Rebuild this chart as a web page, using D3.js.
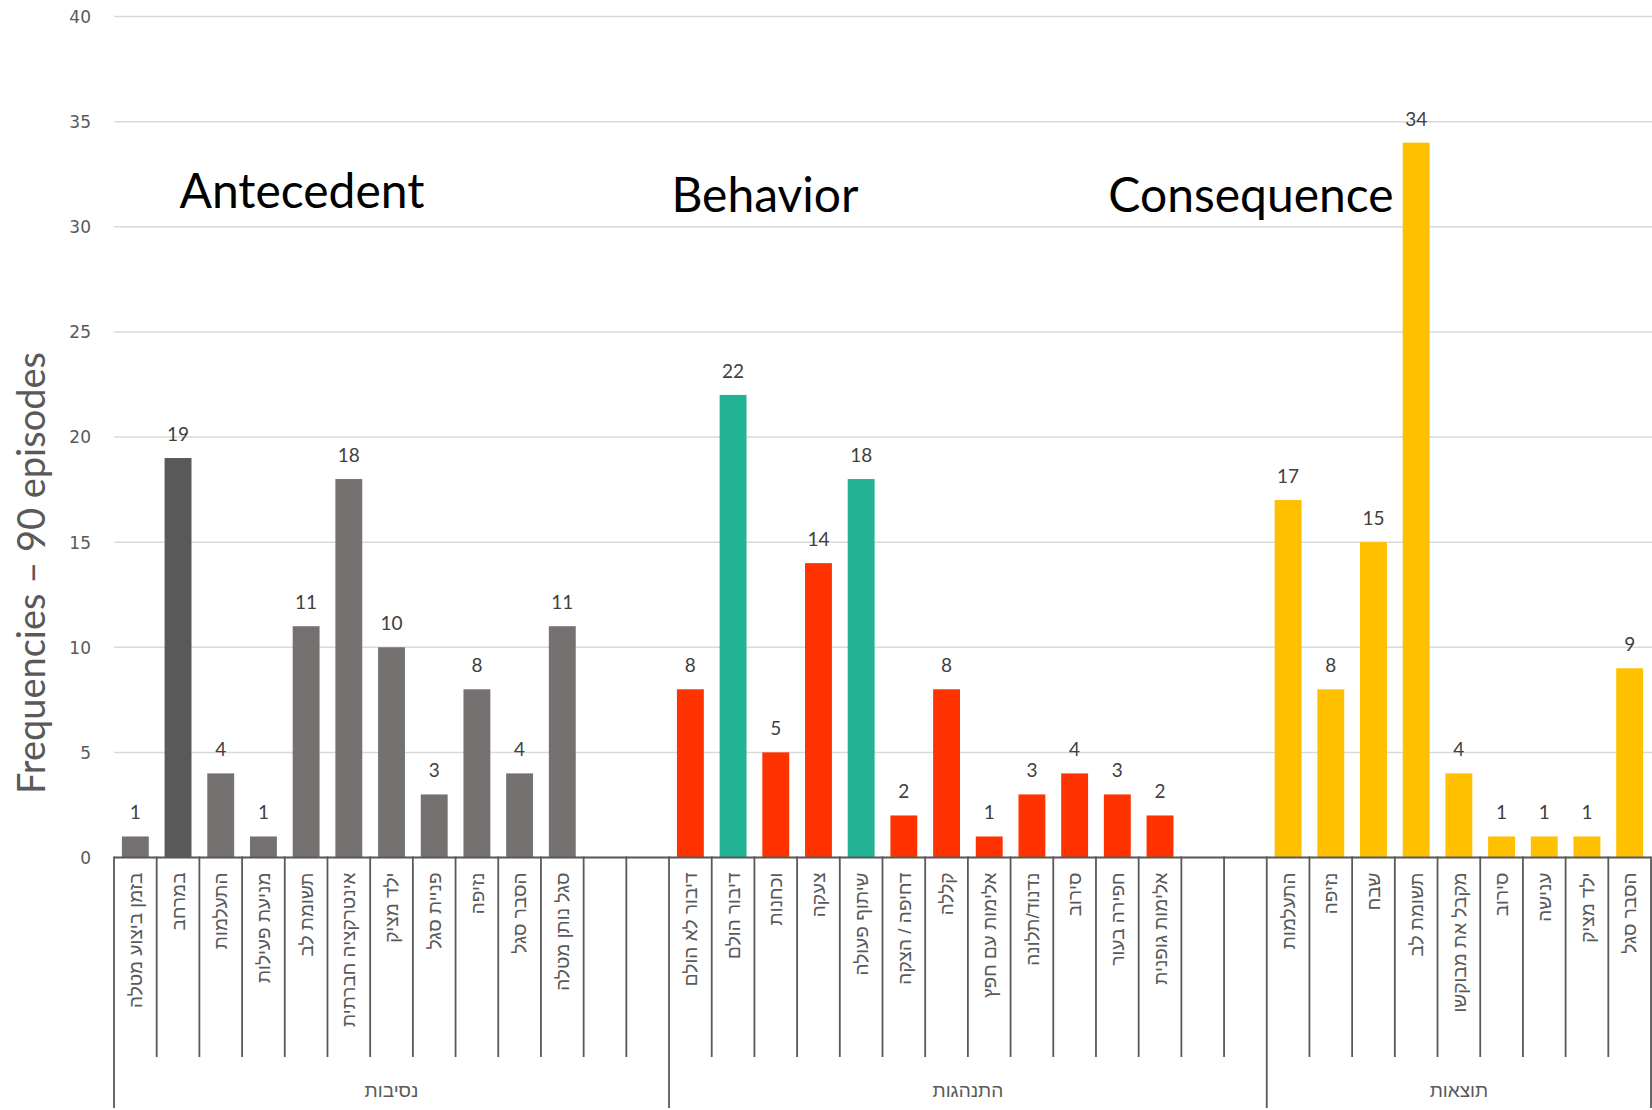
<!DOCTYPE html>
<html lang="he">
<head>
<meta charset="utf-8">
<title>Frequencies – 90 episodes</title>
<script src="https://cdn.jsdelivr.net/npm/d3@7"></script>
<style>
  html, body { margin: 0; padding: 0; background: #fff; }
  svg { display: block; }
</style>
</head>
<body>
<svg id="chart" width="1652" height="1110"></svg>
<script>
// ---- data ----
const groupNames = ["נסיבות", "התנהגות", "תוצאות"];
const groupTitles = ["Antecedent", "Behavior", "Consequence"];
const groupEmptySlots = [2, 2, 0];

const antecedentLabels = ["בזמן ביצוע מטלה", "במרחב", "התעלמות", "מניעת פעילות", "תשומת לב",
  "אינטרקציה חברתית", "ילד מציק", "פניית סגל", "נזיפה", "הסבר סגל", "סגל נותן מטלה"];
const antecedentValues = [1, 19, 4, 1, 11, 18, 10, 3, 8, 4, 11];

const behaviorLabels = ["דיבור לא הולם", "דיבור הולם", "וכחנות", "צעקה", "שיתוף פעולה",
  "דחיפה / הצקה", "קללה", "אלימות עם חפץ", "נדנוד/תלונה", "סירוב", "חפירה בעור", "אלימות גופנית"];
const behaviorValues = [8, 22, 5, 14, 18, 2, 8, 1, 3, 4, 3, 2];
const positiveBehaviors = ["דיבור הולם", "שיתוף פעולה"];

const consequenceLabels = ["התעלמות", "נזיפה", "שבח", "תשומת לב", "מקבל את מבוקשו",
  "סירוב", "ענישה", "ילד מציק", "הסבר סגל"];
const consequenceValues = [17, 8, 15, 34, 4, 1, 1, 1, 9];

const highlightedAntecedents = ["במרחב"];
const yTicks = [0, 5, 10, 15, 20, 25, 30, 35, 40];

// ---- layout ----
const W = 1652, H = 1110;
const plot = { left: 114, right: 1651, top: 16.5, bottom: 857.5 };
const shortDividerEnd = 1057;
const longDividerEnd = 1108;

const palette = {
  antecedent: "#767171",
  antecedentHi: "#595959",
  behavior: "#FF3300",
  behaviorPos: "#22B294",
  consequence: "#FFC000"
};

// flatten the three groups into slots (with blank slots after the first two groups)
const groups = [
  { labels: antecedentLabels, values: antecedentValues },
  { labels: behaviorLabels, values: behaviorValues },
  { labels: consequenceLabels, values: consequenceValues }
];
const slots = [];
groups.forEach((g, gi) => {
  g.labels.forEach((lab, i) => slots.push({ id: `g${gi}-${i}`, group: gi, label: lab, value: g.values[i] }));
  for (let k = 0; k < groupEmptySlots[gi]; k++) slots.push({ id: `g${gi}-e${k}`, group: gi, label: null, value: null });
});

function barColor(d) {
  if (d.group === 0) return highlightedAntecedents.includes(d.label) ? palette.antecedentHi : palette.antecedent;
  if (d.group === 1) return positiveBehaviors.includes(d.label) ? palette.behaviorPos : palette.behavior;
  return palette.consequence;
}

const x = d3.scaleBand()
  .domain(slots.map(d => d.id))
  .range([plot.left, plot.right])
  .paddingInner(0.37)
  .paddingOuter(0.185);
const step = x.step();
const slotStart = d => x(d.id) - x.paddingInner() * step / 2;

const y = d3.scaleLinear().domain([0, 40]).range([plot.bottom, plot.top]);

const svg = d3.select("#chart");

// gridlines
svg.append("g")
  .selectAll("line")
  .data(yTicks)
  .join("line")
  .attr("x1", plot.left).attr("x2", W)
  .attr("y1", d => y(d)).attr("y2", d => y(d))
  .attr("stroke", "#d9d9d9")
  .attr("stroke-width", 1.5);

// y axis labels
const yAxis = d3.axisLeft(y).tickValues(yTicks).tickSize(0).tickPadding(0);
const yg = svg.append("g").attr("transform", `translate(91,0)`).call(yAxis);
yg.select(".domain").remove();
yg.selectAll("text")
  .attr("fill", "#595959")
  .attr("font-family", "DejaVu Sans, Verdana, sans-serif")
  .attr("font-size", 17)
  .attr("dy", "0.35em");

// y axis title
svg.append("text")
  .attr("transform", `translate(45,573) rotate(-90)`)
  .attr("text-anchor", "middle")
  .attr("font-family", "Lato, sans-serif")
  .attr("font-weight", 400)
  .attr("font-size", 38)
  .attr("fill", "#595959")
  .text("Frequencies – 90 episodes");

// bars
const barData = slots.filter(d => d.value !== null);
svg.append("g")
  .selectAll("rect")
  .data(barData)
  .join("rect")
  .attr("x", d => x(d.id))
  .attr("width", x.bandwidth())
  .attr("y", d => y(d.value))
  .attr("height", d => y(0) - y(d.value))
  .attr("fill", barColor);

// value labels
svg.append("g")
  .selectAll("text")
  .data(barData)
  .join("text")
  .attr("x", d => x(d.id) + x.bandwidth() / 2)
  .attr("y", d => y(d.value) - 17)
  .attr("text-anchor", "middle")
  .attr("font-family", "Lato, sans-serif")
  .attr("font-size", 19)
  .attr("fill", "#404040")
  .text(d => d.value);

// category axis line
svg.append("line")
  .attr("x1", plot.left).attr("x2", plot.right)
  .attr("y1", y(0)).attr("y2", y(0))
  .attr("stroke", "#595959").attr("stroke-width", 2);

// dividers between slots; group boundaries run to the bottom
const groupStartIdx = [];
slots.forEach((d, i) => { if (i === 0 || slots[i - 1].group !== d.group) groupStartIdx.push(i); });
const boundaries = d3.range(slots.length + 1).map(i => ({
  x: plot.left + i * step,
  long: groupStartIdx.includes(i) || i === slots.length
}));
svg.append("g")
  .selectAll("line")
  .data(boundaries)
  .join("line")
  .attr("x1", d => d.x).attr("x2", d => d.x)
  .attr("y1", y(0) - 1)
  .attr("y2", d => d.long ? longDividerEnd : shortDividerEnd)
  .attr("stroke", "#595959")
  .attr("stroke-width", 1.8);

// rotated category labels
svg.append("g")
  .selectAll("text")
  .data(barData)
  .join("text")
  .attr("transform", d => `translate(${x(d.id) + x.bandwidth() / 2},${y(0) + 15}) rotate(-90)`)
  .attr("text-anchor", "end")
  .attr("dy", "0.35em")
  .attr("font-family", "Liberation Sans, DejaVu Sans, sans-serif")
  .attr("font-size", 19)
  .attr("fill", "#595959")
  .text(d => d.label);

// group labels under each block
const groupSpans = groupNames.map((name, gi) => {
  const members = slots.filter(d => d.group === gi);
  const x0 = slotStart(members[0]);
  const x1 = slotStart(members[members.length - 1]) + step;
  return { name, title: groupTitles[gi], x0, x1 };
});
svg.append("g")
  .selectAll("text")
  .data(groupSpans)
  .join("text")
  .attr("x", d => (d.x0 + d.x1) / 2)
  .attr("y", 1090)
  .attr("dy", "0.35em")
  .attr("text-anchor", "middle")
  .attr("font-family", "Liberation Sans, DejaVu Sans, sans-serif")
  .attr("font-size", 19)
  .attr("fill", "#595959")
  .text(d => d.name);

// block titles
const titlePos = [
  { x: 302, y: 208 },
  { x: 765, y: 212 },
  { x: 1251, y: 212 }
];
svg.append("g")
  .selectAll("text")
  .data(groupTitles)
  .join("text")
  .attr("x", (d, i) => titlePos[i].x)
  .attr("y", (d, i) => titlePos[i].y)
  .attr("text-anchor", "middle")
  .attr("font-family", "Lato, sans-serif")
  .attr("font-size", 48)
  .attr("fill", "#000")
  .text(d => d);
</script>
</body>
</html>
